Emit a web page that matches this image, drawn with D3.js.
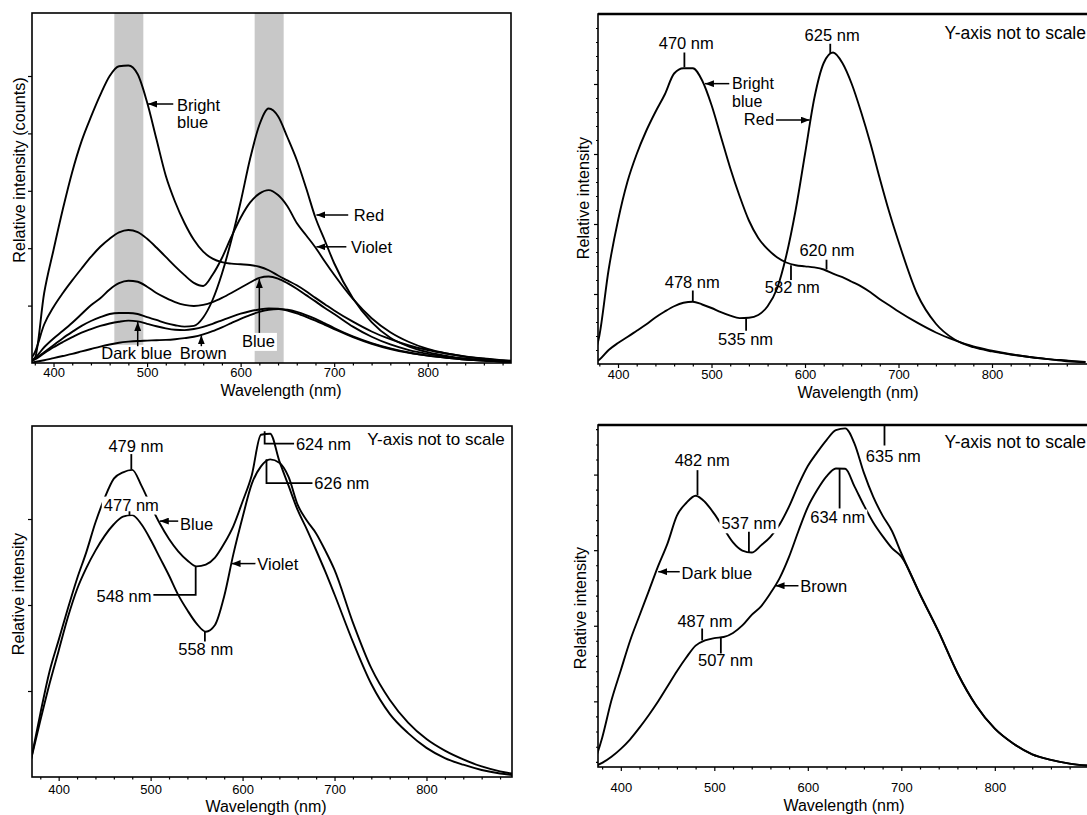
<!DOCTYPE html>
<html><head><meta charset="utf-8">
<script src="https://cdn.jsdelivr.net/npm/d3@7"></script>
<style>
body{margin:0;background:#fff}
svg{display:block}
text{font-family:"Liberation Sans",Arial,Helvetica,sans-serif;fill:#000}
</style></head>
<body><svg id="c" width="1087" height="815"></svg>
<script>
// ---------- DATA ----------
const wavelengths = [370,380,390,400,410,420,430,440,450,460,470,480,490,500,510,520,530,540,550,560,570,580,590,600,610,620,630,640,650,660,670,680,690,700,720,740,760,780,800,820,840,860,880,900];

// Panel A (top-left), relative intensity (fraction of frame height)
const brightBlueA = [0,0.014,0.2,0.323,0.44,0.546,0.634,0.703,0.766,0.82,0.848,0.85,0.825,0.745,0.64,0.535,0.46,0.4,0.352,0.318,0.298,0.288,0.284,0.282,0.28,0.275,0.265,0.25,0.236,0.222,0.205,0.186,0.168,0.15,0.118,0.09,0.068,0.05,0.037,0.027,0.019,0.013,0.008,0.005];
const redA = [0,0.011,0.031,0.051,0.071,0.089,0.106,0.12,0.131,0.14,0.143,0.143,0.14,0.131,0.123,0.114,0.108,0.104,0.106,0.13,0.18,0.255,0.35,0.46,0.582,0.68,0.727,0.705,0.645,0.58,0.5,0.415,0.35,0.285,0.185,0.117,0.072,0.047,0.031,0.02,0.012,0.008,0.004,0.003];
const violetA = [0,0.03,0.11,0.16,0.2,0.236,0.27,0.303,0.332,0.355,0.373,0.38,0.374,0.355,0.33,0.303,0.276,0.251,0.229,0.22,0.252,0.3,0.36,0.415,0.458,0.484,0.494,0.48,0.448,0.4,0.365,0.33,0.29,0.252,0.183,0.128,0.088,0.06,0.04,0.027,0.018,0.012,0.007,0.005];
const blueA = [0,0.014,0.045,0.07,0.092,0.115,0.14,0.165,0.185,0.21,0.228,0.235,0.232,0.218,0.2,0.186,0.174,0.166,0.163,0.166,0.174,0.186,0.2,0.215,0.23,0.243,0.247,0.241,0.228,0.212,0.194,0.176,0.157,0.14,0.104,0.075,0.053,0.037,0.026,0.018,0.012,0.008,0.005,0.003];
const darkBlueA = [0,0.01,0.028,0.045,0.06,0.074,0.087,0.097,0.106,0.113,0.118,0.121,0.119,0.112,0.105,0.099,0.095,0.094,0.097,0.103,0.112,0.122,0.132,0.141,0.148,0.153,0.156,0.155,0.15,0.142,0.132,0.121,0.109,0.097,0.074,0.055,0.04,0.029,0.021,0.015,0.01,0.007,0.004,0.003];
const brownA = [0,0.003,0.008,0.014,0.02,0.026,0.033,0.04,0.047,0.053,0.058,0.061,0.063,0.064,0.065,0.066,0.068,0.071,0.075,0.082,0.091,0.102,0.114,0.126,0.137,0.146,0.152,0.154,0.152,0.146,0.137,0.126,0.113,0.1,0.076,0.057,0.042,0.03,0.021,0.015,0.01,0.007,0.004,0.003];
const bandsA = [[465,496],[615,646]];

// Panel B (top-right)
const brightBlueB = [0,0.08,0.27,0.41,0.52,0.6,0.665,0.72,0.77,0.83,0.845,0.845,0.81,0.74,0.65,0.56,0.48,0.41,0.36,0.328,0.305,0.29,0.282,0.279,0.276,0.27,0.258,0.248,0.235,0.222,0.205,0.185,0.168,0.15,0.118,0.09,0.068,0.05,0.038,0.028,0.02,0.014,0.008,0.005];
const redB = [0,0.012,0.04,0.06,0.077,0.095,0.113,0.133,0.15,0.165,0.175,0.178,0.17,0.16,0.148,0.138,0.131,0.132,0.14,0.165,0.215,0.31,0.44,0.6,0.76,0.86,0.89,0.86,0.8,0.72,0.63,0.53,0.435,0.35,0.2,0.115,0.07,0.048,0.036,0.027,0.02,0.014,0.01,0.006];

// Panel C (bottom-left)
const blueC = [0.05,0.18,0.3,0.39,0.48,0.565,0.64,0.725,0.795,0.85,0.868,0.875,0.83,0.774,0.722,0.678,0.643,0.617,0.6,0.605,0.625,0.665,0.715,0.785,0.86,0.975,0.978,0.9,0.83,0.76,0.705,0.646,0.585,0.52,0.385,0.265,0.18,0.125,0.083,0.054,0.035,0.02,0.01,0.004];
const violetC = [0.05,0.16,0.265,0.36,0.455,0.535,0.595,0.645,0.687,0.72,0.742,0.746,0.72,0.676,0.625,0.574,0.519,0.475,0.437,0.414,0.433,0.515,0.635,0.74,0.835,0.885,0.905,0.895,0.855,0.775,0.73,0.694,0.645,0.59,0.44,0.31,0.22,0.155,0.108,0.075,0.05,0.03,0.016,0.007];

// Panel D (bottom-right)
const darkBlueD = [0,0.085,0.195,0.283,0.37,0.443,0.515,0.588,0.654,0.735,0.772,0.793,0.775,0.74,0.698,0.657,0.633,0.627,0.648,0.673,0.71,0.762,0.825,0.88,0.92,0.956,0.985,0.99,0.945,0.86,0.79,0.735,0.69,0.625,0.505,0.395,0.275,0.18,0.112,0.068,0.037,0.021,0.01,0.004];
const brownD = [0,0.012,0.03,0.053,0.081,0.115,0.152,0.192,0.236,0.28,0.32,0.355,0.37,0.377,0.38,0.392,0.414,0.445,0.47,0.508,0.553,0.615,0.69,0.76,0.81,0.85,0.873,0.872,0.82,0.765,0.715,0.675,0.64,0.615,0.505,0.395,0.275,0.18,0.112,0.068,0.037,0.021,0.01,0.004];

// Ticks
const xMajorTicks = [400,500,600,700,800];
const xMinorTicks = [380,420,440,460,480,520,540,560,580,620,640,660,680,720,740,760,780,820,840,860,880];
const yTicksA = [0.164,0.328,0.492,0.656,0.82];
const yMajorB = [0.2,0.4,0.6,0.8];
const yMinorB = [0.04,0.08,0.12,0.16,0.24,0.28,0.32,0.36,0.44,0.48,0.52,0.56,0.64,0.68,0.72,0.76,0.84,0.88,0.92,0.96];
const yTicksC = [0.245,0.49,0.735];
const yMajorD = [0.192,0.413,0.634,0.855];
const yMinorD = [0.015,0.059,0.104,0.148,0.236,0.28,0.325,0.369,0.457,0.501,0.546,0.59,0.678,0.722,0.767,0.811,0.899,0.943,0.988];

// ---------- DRAWING ----------
const svg = d3.select("#c");
const defs = svg.append("defs");
defs.append("marker").attr("id","ah").attr("viewBox","0 0 9 7").attr("refX",9).attr("refY",3.5)
  .attr("markerWidth",9).attr("markerHeight",7).attr("markerUnits","userSpaceOnUse").attr("orient","auto")
  .append("path").attr("d","M0,0L9,3.5L0,7Z").attr("fill","#000");

const FONT = 16.5;

function drawPanel(p) {
  const x = d3.scaleLinear().domain(p.xDomain).range([p.left, p.right]);
  const y = d3.scaleLinear().domain([0,1]).range([p.bottom, p.top]);
  const g = svg.append("g");
  defs.append("clipPath").attr("id","clip"+p.id).append("rect")
    .attr("x",p.left).attr("y",p.top).attr("width",p.right-p.left).attr("height",p.bottom-p.top);
  const plot = g.append("g").attr("clip-path",`url(#clip${p.id})`);
  (p.bands||[]).forEach(b => {
    plot.append("rect").attr("x",x(b[0])).attr("width",x(b[1])-x(b[0]))
      .attr("y",p.top).attr("height",p.bottom-p.top).attr("fill","#c8c8c8");
  });
  const below = g.append("g");
  const line = d3.line().x(d=>x(d[0])).y(d=>y(d[1])).curve(d3.curveMonotoneX);
  const curves = g.append("g").attr("clip-path",`url(#clip${p.id})`);
  p.series.forEach(s => {
    curves.append("path").datum(d3.zip(wavelengths, s))
      .attr("d", line).attr("fill","none").attr("stroke","#000")
      .attr("stroke-width",1.9).attr("stroke-linejoin","round");
  });
  const above = g.append("g");

  // axes
  const xa = g.append("g").attr("transform",`translate(0,${p.bottom})`)
    .call(d3.axisBottom(x).tickValues(xMajorTicks).tickSize(4).tickPadding(p.tickPad).tickFormat(d3.format("d")));
  xa.select(".domain").remove();
  xa.selectAll("text").attr("font-size",13).attr("font-family","Liberation Sans, Arial, sans-serif");
  xa.selectAll("line").attr("stroke","#000").attr("stroke-width",1.2);
  const xm = g.append("g").attr("transform",`translate(0,${p.bottom})`)
    .call(d3.axisBottom(x).tickValues(xMinorTicks.filter(v=>v>p.xDomain[0])).tickSize(2.5).tickFormat(""));
  xm.select(".domain").remove();
  xm.selectAll("line").attr("stroke","#000").attr("stroke-width",1.2);
  const ya = g.append("g").attr("transform",`translate(${p.left},0)`)
    .call(d3.axisLeft(y).tickValues(p.yMajor).tickSize(4).tickFormat(""));
  ya.select(".domain").remove();
  ya.selectAll("line").attr("stroke","#000").attr("stroke-width",1.2);
  if (p.yMinor) {
    const ym = g.append("g").attr("transform",`translate(${p.left},0)`)
      .call(d3.axisLeft(y).tickValues(p.yMinor).tickSize(2).tickFormat(""));
    ym.select(".domain").remove();
    ym.selectAll("line").attr("stroke","#000").attr("stroke-width",1.1);
  }
  // frame
  g.append("rect").attr("x",p.left).attr("y",p.top).attr("width",p.right-p.left).attr("height",p.bottom-p.top)
    .attr("fill","none").attr("stroke","#000").attr("stroke-width",1.6);
  if (p.thickTop) g.append("line").attr("x1",p.left).attr("x2",p.right).attr("y1",p.top).attr("y2",p.top)
    .attr("stroke","#000").attr("stroke-width",2.6);

  // titles
  g.append("text").attr("x",p.xTitle[0]).attr("y",p.xTitle[1]).attr("text-anchor","middle")
    .attr("font-size",16).text("Wavelength (nm)");
  g.append("text").attr("transform",`translate(${p.yTitle[0]},${p.yTitle[1]}) rotate(-90)`)
    .attr("text-anchor","middle").attr("dy","0.35em").attr("font-size",16.2).text(p.yLabel);

  const A = {
    x, y,
    text(layer, nm, v, str, anchor="start", bg=false, px=null, size=FONT) {
      const t = layer.append("text").attr("x", px!==null ? px : x(nm)).attr("y", y(v))
        .attr("text-anchor", anchor).attr("font-size", size).text(str);
      if (bg) {
        const b = t.node().getBBox();
        layer.insert("rect", () => t.node()).attr("x",b.x-2).attr("y",b.y+1).attr("width",b.width+4)
          .attr("height",b.height).attr("fill","#fff");
      }
      return t;
    },
    path(layer, pts) {
      layer.append("path").attr("d", d3.line()(pts.map(d=>[x(d[0]),y(d[1])])))
        .attr("fill","none").attr("stroke","#000").attr("stroke-width",1.8);
    },
    arrow(layer, nm1, v1, nm2, v2) {
      layer.append("line").attr("x1",x(nm1)).attr("y1",y(v1)).attr("x2",x(nm2)).attr("y2",y(v2))
        .attr("stroke","#000").attr("stroke-width",1.5).attr("marker-end","url(#ah)");
    }
  };
  p.annotate(A, below, above);
}

// Panel A
drawPanel({
  id:"A", left:32, right:511, top:13, bottom:363, xDomain:[377,889], tickPad:1,
  yMajor:yTicksA, bands:bandsA, series:[brightBlueA, redA, violetA, blueA, darkBlueA, brownA],
  xTitle:[281,395.5], yTitle:[19,170], yLabel:"Relative intensity (counts)",
  annotate(A, below, above) {
    A.arrow(above, 528, 0.74, 501, 0.74);
    A.text(below, 532, 0.7214, "Bright");
    A.text(below, 532, 0.6714, "blue");
    A.arrow(above, 715, 0.423, 681, 0.423);
    A.text(below, 721, 0.406, "Red");
    A.arrow(above, 713, 0.332, 681, 0.332);
    A.text(below, 718, 0.315, "Violet");
    A.text(below, 619, 0.046, "Blue", "middle", true);
    A.arrow(above, 620, 0.086, 620, 0.24);
    A.text(below, 451, 0.012, "Dark blue", "start", true);
    A.text(below, 535, 0.012, "Brown", "start", true);
    A.arrow(above, 490, 0.048, 490, 0.117);
    A.arrow(above, 558, 0.048, 558, 0.079);
  }
});

// Panel B
drawPanel({
  id:"B", left:598, right:1100, top:14, bottom:364, xDomain:[378.6,915.5], tickPad:2, thickTop:true,
  yMajor:yMajorB, yMinor:yMinorB, series:[brightBlueB, redB],
  xTitle:[858,397.5], yTitle:[583,198], yLabel:"Relative intensity",
  annotate(A, below, above) {
    A.text(above, 473, 0.9, "470 nm", "middle");
    A.path(above, [[471,0.89],[471,0.848]]);
    A.text(above, 629, 0.922, "625 nm", "middle");
    A.path(above, [[627,0.915],[627,0.888]]);
    A.arrow(above, 519, 0.801, 493, 0.801);
    A.text(above, 522, 0.7871, "Bright", "start", false, null, 16);
    A.text(above, 522, 0.7357, "blue", "start", false, null, 16);
    A.text(above, 567, 0.683, "Red", "end");
    A.arrow(above, 569, 0.697, 605, 0.697);
    A.text(above, 594, 0.309, "620 nm");
    A.path(above, [[623,0.298],[623,0.27]]);
    A.text(above, 557, 0.204, "582 nm");
    A.path(above, [[585,0.282],[585,0.24]]);
    A.text(above, 450, 0.216, "478 nm");
    A.path(above, [[480,0.21],[480,0.178]]);
    A.text(above, 507, 0.054, "535 nm");
    A.path(above, [[537,0.131],[537,0.095]]);
    A.text(above, 0, 0.928, "Y-axis not to scale", "end", false, 1086, 17.5);
  }
});

// Panel C
drawPanel({
  id:"C", left:32, right:512, top:426, bottom:777, xDomain:[371,893], tickPad:4,
  yMajor:yTicksC, series:[blueC, violetC],
  xTitle:[266,811.8], yTitle:[18.5,594], yLabel:"Relative intensity",
  annotate(A, below, above) {
    A.text(above, 484, 0.927, "479 nm", "middle");
    A.path(above, [[479,0.92],[479,0.876]]);
    A.text(above, 479, 0.759, "477 nm", "middle", true);
    A.path(above, [[477,0.757],[477,0.745]]);
    A.arrow(above, 530, 0.729, 510, 0.729);
    A.text(above, 532, 0.705, "Blue");
    A.text(above, 501, 0.5, "548 nm", "end");
    A.path(above, [[503,0.519],[549,0.519],[549,0.6]]);
    A.text(above, 560, 0.348, "558 nm", "middle");
    A.path(above, [[559,0.414],[559,0.386]]);
    A.arrow(above, 614, 0.608, 588, 0.608);
    A.text(above, 616, 0.589, "Violet");
    A.path(above, [[624,0.985],[624,0.95],[656,0.95]]);
    A.text(above, 658, 0.933, "624 nm");
    A.path(above, [[626,0.905],[626,0.837],[676,0.837]]);
    A.text(above, 678, 0.82, "626 nm");
    A.text(above, 885, 0.946, "Y-axis not to scale", "end", false, null, 17);
  }
});

// Panel D
drawPanel({
  id:"D", left:598, right:1100, top:425, bottom:767, xDomain:[375.6,912.5], tickPad:12, thickTop:true,
  yMajor:yMajorD, yMinor:yMinorD, series:[darkBlueD, brownD],
  xTitle:[844,810.5], yTitle:[580,608], yLabel:"Relative intensity",
  annotate(A, below, above) {
    A.text(above, 487, 0.88, "482 nm", "middle");
    A.path(above, [[482,0.868],[482,0.795]]);
    A.text(above, 537, 0.695, "537 nm", "middle", true);
    A.path(above, [[537,0.688],[537,0.627]]);
    A.arrow(above, 463, 0.571, 440, 0.571);
    A.text(above, 465, 0.551, "Dark blue");
    A.arrow(above, 590, 0.53, 565.5, 0.53);
    A.text(above, 592, 0.513, "Brown");
    A.text(above, 490, 0.41, "487 nm", "middle");
    A.path(above, [[487,0.405],[487,0.37]]);
    A.text(above, 512, 0.295, "507 nm", "middle");
    A.path(above, [[507,0.378],[507,0.332]]);
    A.text(above, 632, 0.712, "634 nm", "middle", true);
    A.path(above, [[634,0.873],[634,0.756]]);
    A.path(above, [[636,1.0],[682,1.0],[682,0.94]]);
    A.text(above, 662, 0.893, "635 nm");
    A.text(above, 0, 0.932, "Y-axis not to scale", "end", false, 1086, 17.5);
  }
});
</script>
</body></html>
